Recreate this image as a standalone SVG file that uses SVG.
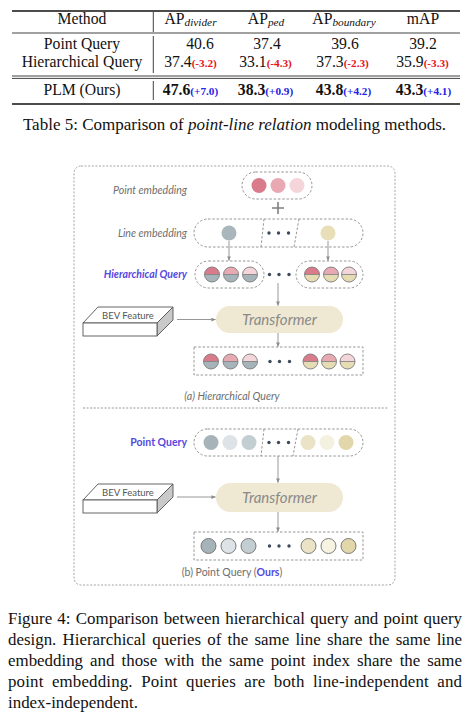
<svg xmlns="http://www.w3.org/2000/svg" width="473" height="720" viewBox="0 0 473 720">
<style>
.serif{font-family:"Liberation Serif","Times New Roman",serif;fill:#111}
.t{font-size:15.7px}
.sub{font-size:11.3px;font-style:italic}
.neg{font-size:11.2px;font-weight:bold;fill:#e8141c}
.pos{font-size:11.2px;font-weight:bold;fill:#2323e6}
.rule{stroke:#111;fill:none}
.lbl{font-family:Lato,"Open Sans",sans-serif;font-style:italic;font-size:10.6px;fill:#6e6e6e}
.blue{font-family:Lato,"Open Sans",sans-serif;font-weight:bold;font-size:10.5px;fill:#5548e0}
.dash{fill:none;stroke:#8a8a8a;stroke-width:0.9;stroke-dasharray:2.5 1.8}
.conn{stroke:#8c8c8c;stroke-width:0.9;fill:none;marker-end:url(#ah)}
.dot{fill:#3e4a5c}
.tf{fill:#efe8d2}
.tft{font-family:Lato,"Open Sans",sans-serif;font-style:italic;font-size:15px;fill:#8a8a8a;text-anchor:middle}
.bev{font-family:Lato,"Open Sans",sans-serif;font-size:9.5px;fill:#555;text-anchor:middle}
.ring{fill:none;stroke:#7a7a7a;stroke-width:0.9}
</style>
<defs>
<marker id="ah" viewBox="0 0 6 6" refX="5.5" refY="3" markerWidth="5" markerHeight="5" orient="auto">
<path d="M0,0.5 L6,3 L0,5.5 Z" fill="#8c8c8c"/>
</marker>
<g id="hp1"><path d="M-7.5,0 A7.5,7.5 0 0 1 7.5,0 Z" fill="#d97b8a"/><path d="M-7.5,0 A7.5,7.5 0 0 0 7.5,0 Z" fill="#a6b4ba"/><circle r="7.5" class="ring"/><line x1="-7.5" x2="7.5" y1="0" y2="0" stroke="#7a7a7a" stroke-width="0.8"/></g>
<g id="hp2"><path d="M-7.5,0 A7.5,7.5 0 0 1 7.5,0 Z" fill="#e8a9b2"/><path d="M-7.5,0 A7.5,7.5 0 0 0 7.5,0 Z" fill="#a6b4ba"/><circle r="7.5" class="ring"/><line x1="-7.5" x2="7.5" y1="0" y2="0" stroke="#7a7a7a" stroke-width="0.8"/></g>
<g id="hp3"><path d="M-7.5,0 A7.5,7.5 0 0 1 7.5,0 Z" fill="#f3d5da"/><path d="M-7.5,0 A7.5,7.5 0 0 0 7.5,0 Z" fill="#a6b4ba"/><circle r="7.5" class="ring"/><line x1="-7.5" x2="7.5" y1="0" y2="0" stroke="#7a7a7a" stroke-width="0.8"/></g>
<g id="ht1"><path d="M-7.5,0 A7.5,7.5 0 0 1 7.5,0 Z" fill="#d97b8a"/><path d="M-7.5,0 A7.5,7.5 0 0 0 7.5,0 Z" fill="#e5dcb4"/><circle r="7.5" class="ring"/><line x1="-7.5" x2="7.5" y1="0" y2="0" stroke="#7a7a7a" stroke-width="0.8"/></g>
<g id="ht2"><path d="M-7.5,0 A7.5,7.5 0 0 1 7.5,0 Z" fill="#e8a9b2"/><path d="M-7.5,0 A7.5,7.5 0 0 0 7.5,0 Z" fill="#e5dcb4"/><circle r="7.5" class="ring"/><line x1="-7.5" x2="7.5" y1="0" y2="0" stroke="#7a7a7a" stroke-width="0.8"/></g>
<g id="ht3"><path d="M-7.5,0 A7.5,7.5 0 0 1 7.5,0 Z" fill="#f3d5da"/><path d="M-7.5,0 A7.5,7.5 0 0 0 7.5,0 Z" fill="#e5dcb4"/><circle r="7.5" class="ring"/><line x1="-7.5" x2="7.5" y1="0" y2="0" stroke="#7a7a7a" stroke-width="0.8"/></g>
<g id="dots"><circle cx="-9.5" r="1.7" class="dot"/><circle cx="0" r="1.7" class="dot"/><circle cx="10" r="1.7" class="dot"/></g>
<g id="bevbox"><path d="M15,0 L90,0 L74,16 L0,16 Z" fill="#fff" stroke="#555" stroke-width="0.9"/><path d="M74,16 L90,0 L90,13 L74,29 Z" fill="#c9c9c9" stroke="#555" stroke-width="0.9"/><rect x="0" y="16" width="74" height="13" fill="#fff" stroke="#555" stroke-width="0.9"/></g>
</defs>

<!-- Table -->
<g id="table">
<line class="rule" x1="12" y1="11" x2="460" y2="11" stroke-width="1.3"/>
<line class="rule" x1="12" y1="33" x2="460" y2="33" stroke-width="0.8"/>
<line class="rule" x1="12" y1="76" x2="460" y2="76" stroke-width="0.8"/>
<line class="rule" x1="12" y1="78.4" x2="460" y2="78.4" stroke-width="0.8"/>
<line class="rule" x1="12" y1="104" x2="460" y2="104" stroke-width="1.3"/>
<line class="rule" x1="153.3" y1="12" x2="153.3" y2="32" stroke-width="0.8"/>
<line class="rule" x1="153.3" y1="36" x2="153.3" y2="73" stroke-width="0.8"/>
<line class="rule" x1="153.3" y1="81" x2="153.3" y2="100" stroke-width="0.8"/>
<g class="serif t" text-anchor="middle">
<text x="82" y="24">Method</text>
<text x="190.5" y="24">AP<tspan class="sub" dy="2">divider</tspan></text>
<text x="266" y="24">AP<tspan class="sub" dy="2">ped</tspan></text>
<text x="344" y="24">AP<tspan class="sub" dy="2">boundary</tspan></text>
<text x="423" y="24">mAP</text>
<text x="82" y="49">Point Query</text>
<text x="200" y="49">40.6</text>
<text x="267" y="49">37.4</text>
<text x="345" y="49">39.6</text>
<text x="423" y="49">39.2</text>
<text x="82" y="67">Hierarchical Query</text>
<text x="190.5" y="67">37.4<tspan class="neg">(-3.2)</tspan></text>
<text x="265.5" y="67">33.1<tspan class="neg">(-4.3)</tspan></text>
<text x="342.5" y="67">37.3<tspan class="neg">(-2.3)</tspan></text>
<text x="422.5" y="67">35.9<tspan class="neg">(-3.3)</tspan></text>
<text x="82" y="94.5">PLM (Ours)</text>
<text x="190.5" y="94.5" font-weight="bold">47.6<tspan class="pos">(+7.0)</tspan></text>
<text x="265.5" y="94.5" font-weight="bold">38.3<tspan class="pos">(+0.9)</tspan></text>
<text x="343.5" y="94.5" font-weight="bold">43.8<tspan class="pos">(+4.2)</tspan></text>
<text x="423.5" y="94.5" font-weight="bold">43.3<tspan class="pos">(+4.1)</tspan></text>
</g>
<text class="serif" font-size="17" x="234.5" y="129.5" text-anchor="middle">Table 5: Comparison of <tspan font-style="italic">point-line relation</tspan> modeling methods.</text>
</g>

<!-- Figure frame -->
<g id="frame">
<rect x="74" y="166" width="321" height="419" rx="7" fill="none" stroke="#9a9a9a" stroke-width="0.9" stroke-dasharray="2 1.6"/>
<line x1="83" y1="408" x2="388" y2="408" stroke="#8a8a8a" stroke-width="0.9" stroke-dasharray="2 1.6"/>
</g>

<!-- Part (a) -->
<g id="point-embedding">
<text class="lbl" x="187" y="194" text-anchor="end">Point embedding</text>
<rect class="dash" x="242" y="172" width="70" height="27" rx="13.5"/>
<circle cx="259" cy="185.5" r="7.5" fill="#d97b8a"/>
<circle cx="278" cy="185.5" r="7.5" fill="#e8a9b2"/>
<circle cx="297" cy="185.5" r="7.5" fill="#f3d5da"/>
</g>
<g id="plus">
<path d="M272,208 H284 M278,202 V214" stroke="#808080" stroke-width="1.6" fill="none"/>
</g>
<g id="line-embedding">
<text class="lbl" x="187" y="236.5" text-anchor="end">Line embedding</text>
<rect class="dash" x="194" y="219" width="169" height="28" rx="14"/>
<line class="dash" x1="264" y1="219" x2="261" y2="247"/>
<line class="dash" x1="299" y1="219" x2="294" y2="247"/>
<circle cx="229" cy="233" r="7.5" fill="#a9b7bd"/>
<circle cx="328" cy="233" r="7.5" fill="#e8dfb8"/>
<use href="#dots" x="278.5" y="233"/>
</g>
<g id="hierarchical-query">
<text class="blue" font-style="italic" x="187" y="278" text-anchor="end">Hierarchical Query</text>
<rect class="dash" x="195" y="261" width="69" height="27" rx="13.5"/>
<rect class="dash" x="296" y="261" width="67" height="27" rx="13.5"/>
<use href="#hp1" x="212" y="274.5"/>
<use href="#hp2" x="231" y="274.5"/>
<use href="#hp3" x="250" y="274.5"/>
<use href="#dots" x="279" y="274.5"/>
<use href="#ht1" x="312" y="274.5"/>
<use href="#ht2" x="331" y="274.5"/>
<use href="#ht3" x="349" y="274.5"/>
</g>
<g id="bev-a">
<use href="#bevbox" x="83" y="307"/>
<text class="bev" x="128" y="318.5">BEV Feature</text>
</g>
<g id="transformer-a">
<rect class="tf" x="216" y="306" width="127" height="27" rx="13.5"/>
<text class="tft" x="279.5" y="324.5">Transformer</text>
</g>
<g id="output-a">
<rect class="dash" x="194" y="347" width="169" height="28"/>
<use href="#hp1" x="211" y="361.5"/>
<use href="#hp2" x="230.5" y="361.5"/>
<use href="#hp3" x="250" y="361.5"/>
<use href="#dots" x="279.5" y="361.5"/>
<use href="#ht1" x="310.5" y="361.5"/>
<use href="#ht2" x="329" y="361.5"/>
<use href="#ht3" x="347.5" y="361.5"/>
<text class="lbl" x="232" y="399.5" text-anchor="middle">(a) Hierarchical Query</text>
</g>

<!-- Part (b) -->
<g id="point-query">
<text class="blue" font-size="10" x="187" y="445.5" text-anchor="end">Point Query</text>
<rect class="dash" x="194" y="429" width="169" height="27" rx="13.5"/>
<line class="dash" x1="264" y1="429" x2="261" y2="456"/>
<line class="dash" x1="298" y1="429" x2="293" y2="456"/>
<circle cx="211" cy="442.5" r="7.5" fill="#a6b4ba"/>
<circle cx="230" cy="442.5" r="7.5" fill="#dde3e6"/>
<circle cx="249" cy="442.5" r="7.5" fill="#c3ced2"/>
<use href="#dots" x="278.5" y="442.5"/>
<circle cx="308" cy="442.5" r="7.5" fill="#ebe3c6"/>
<circle cx="327" cy="442.5" r="7.5" fill="#f5f1e1"/>
<circle cx="346" cy="442.5" r="7.5" fill="#e2d7ab"/>
</g>
<g id="bev-b">
<use href="#bevbox" x="83" y="484"/>
<text class="bev" x="128" y="495.5">BEV Feature</text>
</g>
<g id="transformer-b">
<rect class="tf" x="216" y="483" width="127" height="29" rx="14.5"/>
<text class="tft" x="279.5" y="502.5">Transformer</text>
</g>
<g id="output-b">
<rect class="dash" x="194" y="532" width="169" height="28"/>
<circle cx="208.5" cy="546" r="7.5" fill="#a6b4ba" stroke="#6e6e6e" stroke-width="0.9"/>
<circle cx="228.5" cy="546" r="7.5" fill="#dde3e6" stroke="#6e6e6e" stroke-width="0.9"/>
<circle cx="248.5" cy="546" r="7.5" fill="#c3ced2" stroke="#6e6e6e" stroke-width="0.9"/>
<use href="#dots" x="279" y="546"/>
<circle cx="308.5" cy="546" r="7.5" fill="#ebe3c6" stroke="#6e6e6e" stroke-width="0.9"/>
<circle cx="328.5" cy="546" r="7.5" fill="#f7f3e3" stroke="#6e6e6e" stroke-width="0.9"/>
<circle cx="348.5" cy="546" r="7.5" fill="#e2d7ab" stroke="#6e6e6e" stroke-width="0.9"/>
<text x="232" y="575.5" text-anchor="middle" font-family="Lato,'Open Sans',sans-serif" font-size="10.5" fill="#6e6e6e">(b) Point Query (<tspan font-weight="bold" fill="#5548e0">Ours</tspan>)</text>
</g>

<!-- Connectors -->
<g id="connectors">
<line class="conn" x1="229" y1="241" x2="229" y2="260.5"/>
<line class="conn" x1="328" y1="241" x2="328" y2="260.5"/>
<line class="conn" x1="278" y1="283" x2="278" y2="305.5"/>
<line class="conn" x1="177" y1="319.5" x2="215.5" y2="319.5"/>
<line class="conn" x1="278" y1="333" x2="278" y2="346.5"/>
<line class="conn" x1="278" y1="456" x2="278" y2="482.5"/>
<line class="conn" x1="177" y1="497" x2="215.5" y2="497"/>
<line class="conn" x1="278" y1="512" x2="278" y2="531.5"/>
</g>

<!-- Figure caption -->
<g id="caption" class="serif" font-size="16.9">
<text x="8" y="624" word-spacing="1" textLength="454" lengthAdjust="spacing">Figure 4: Comparison between hierarchical query and point query</text>
<text x="8" y="645" word-spacing="2" textLength="454" lengthAdjust="spacing">design. Hierarchical queries of the same line share the same line</text>
<text x="8" y="666" word-spacing="2.8" textLength="454" lengthAdjust="spacing">embedding and those with the same point index share the same</text>
<text x="8" y="687" word-spacing="4.1" textLength="454" lengthAdjust="spacing">point embedding. Point queries are both line-independent and</text>
<text x="8" y="708">index-independent.</text>
</g>
</svg>
